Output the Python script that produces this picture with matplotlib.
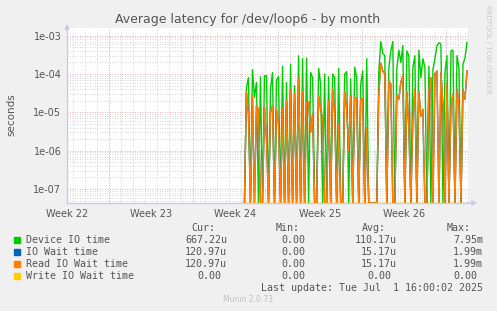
import numpy as np
import pandas as pd
import matplotlib
matplotlib.use("Agg")
import matplotlib.pyplot as plt
import matplotlib.dates as mdates
from matplotlib.ticker import LogLocator, FixedLocator, NullFormatter

# samples every 4 hours, values in microseconds (0 = no latency)
start = "2025-06-13 06:00"
step = "4h"

device_io = [
    0, 45, 80, 0, 130, 25, 60, 0, 85, 0,
    90, 90, 0, 40, 110, 0, 70, 85, 0, 160,
    0, 60, 0, 180, 0, 50, 0, 300, 0, 250,
    0, 260, 0, 110, 80, 0, 0, 140, 55, 0,
    100, 0, 85, 0, 100, 80, 0, 140, 0, 0,
    100, 115, 0, 75, 0, 150, 80, 0, 55, 120,
    0, 250, 0, 0, 0, 0, 0, 110, 700, 350,
    300, 0, 140, 400, 700, 0, 140, 420, 200, 550,
    0, 400, 300, 0, 150, 300, 0, 420, 80, 250,
    150, 0, 160, 0, 130, 250, 550, 650, 600, 0,
    110, 300, 0, 400, 420, 0, 300, 140, 0, 180,
    260, 667,
]
read_wait = [
    0, 35, 9, 0, 27, 0, 15, 12, 0, 0,
    14, 2, 0, 10, 15, 0, 12, 5, 0, 13,
    0, 20, 0, 40, 0, 30, 0, 80, 0, 35,
    0, 18, 19, 3, 9, 0, 0, 27, 12, 7,
    0, 0, 20, 0, 40, 9, 0, 5, 0, 0,
    35, 12, 1, 27, 0, 25, 22, 0, 22, 23,
    0, 4, 0, 0, 0, 0, 0, 30, 190, 120,
    100, 0, 65, 55, 0, 0, 28, 22, 60, 90,
    0, 35, 4, 0, 7, 40, 0, 35, 8, 12,
    0, 0, 40, 80, 0, 100, 120, 0, 110, 15,
    0, 55, 0, 14, 30, 0, 40, 15, 0, 40,
    22, 121,
]
io_wait = list(read_wait)
write_wait = [0] * len(read_wait)

labels = ["Device IO time", "IO Wait time", "Read IO Wait time", "Write IO Wait time"]
colors = ["#00CC00", "#0066B3", "#FF8000", "#FFCC00"]
cur = ["667.22u", "120.97u", "120.97u", "0.00"]
vmin = ["0.00", "0.00", "0.00", "0.00"]
avg = ["110.17u", "15.17u", "15.17u", "0.00"]
vmax = ["7.95m", "1.99m", "1.99m", "0.00"]

week_names = ["Week 22", "Week 23", "Week 24", "Week 25", "Week 26"]
week_mid = pd.to_datetime(["2025-05-29 12:00", "2025-06-05 12:00", "2025-06-12 12:00",
                           "2025-06-19 12:00", "2025-06-26 12:00"])
week_start = pd.to_datetime(["2025-06-02", "2025-06-09", "2025-06-16", "2025-06-23", "2025-06-30"])

t0 = pd.Timestamp("2025-05-29 12:00")
t1 = pd.Timestamp("2025-07-01 20:00")
ylo, yhi = 10 ** -7.365, 10 ** -2.80

times = pd.date_range(start, periods=len(device_io), freq=step)

text_c = "#555555"
fig = plt.figure(figsize=(4.97, 3.11), dpi=100, facecolor="#F0F0F0")
ax = fig.add_axes([67 / 497, 1 - 203 / 311, 401 / 497, 175 / 311])
ax.set_facecolor("white")
ax.set_yscale("log")
ax.set_xlim(t0, t1)
ax.set_ylim(ylo, yhi)

# grid
ax.yaxis.set_major_locator(LogLocator(base=10, numticks=20))
ax.yaxis.set_minor_locator(LogLocator(base=10, subs=np.arange(2, 10), numticks=20))
ax.yaxis.set_minor_formatter(NullFormatter())
ax.yaxis.set_major_formatter(plt.FuncFormatter(lambda v, p: "%.0e" % v))
days = pd.date_range("2025-05-30", "2025-07-01", freq="D")
ax.xaxis.set_minor_locator(FixedLocator(mdates.date2num(days)))
ax.xaxis.set_major_locator(FixedLocator(mdates.date2num(week_mid)))
ax.set_xticklabels(week_names)
ax.grid(which="minor", color="#C8C8C8", linestyle=(0, (1, 2)), linewidth=0.6)
ax.yaxis.grid(which="major", color="#E09090", linestyle=(0, (1, 2)), linewidth=0.6)
ax.xaxis.grid(which="major", visible=False)
for ws in week_start:
    ax.axvline(ws, color="#E09090", linestyle=(0, (1, 2)), linewidth=0.6, zorder=0.5)
ax.set_axisbelow(True)

# series
floor = ylo
for vals, col in zip([device_io, io_wait, read_wait, write_wait], colors):
    v = np.array(vals, dtype=float) * 1e-6
    v = np.where(v > 0, v, floor)
    ax.plot(times, v, color=col, linewidth=1.0, clip_on=True, zorder=3)

# axes styling
for s in ["top", "right"]:
    ax.spines[s].set_visible(False)
for s in ["left", "bottom"]:
    ax.spines[s].set_color("#C8C8F0")
    ax.spines[s].set_linewidth(1.0)
ax.tick_params(axis="both", which="both", length=0, colors=text_c, labelsize=7, pad=4)
ax.tick_params(axis="x", pad=4)
ax.annotate("", xy=(0, 1.04), xytext=(0, 0.99), xycoords="axes fraction",
            arrowprops=dict(arrowstyle="-|>", color="#C8C8F0", lw=1, mutation_scale=7))
ax.annotate("", xy=(1.03, 0), xytext=(0.99, 0), xycoords="axes fraction",
            arrowprops=dict(arrowstyle="-|>", color="#C8C8F0", lw=1, mutation_scale=7))

fig.text(248 / 497, 1 - 19 / 311, "Average latency for /dev/loop6 - by month",
         ha="center", va="center", fontsize=9, color=text_c)
fig.text(11 / 497, 1 - 115 / 311, "seconds", rotation=90, ha="center", va="center",
         fontsize=7.5, color=text_c)
fig.text(488 / 497, 1 - 5 / 311, "RRDTOOL / TOBI OETIKER", rotation=270, ha="center",
         va="top", fontsize=5, color="#C8C8C8")

# legend
mono = dict(family="DejaVu Sans Mono", fontsize=7.2, color=text_c, va="center")
def fy(y):
    return 1 - y / 311
for name, x in zip(["Cur:", "Min:", "Avg:", "Max:"], [191, 276, 362, 447]):
    fig.text(x / 497, fy(228), name, ha="left", **mono)
rows = [240, 252, 264, 276]
for i in range(4):
    y = rows[i]
    fig.patches.append(plt.Rectangle((14 / 497, fy(y + 3)), 6 / 497, 6 / 311,
                                     transform=fig.transFigure, color=colors[i]))
    fig.text(26 / 497, fy(y), labels[i], ha="left", **mono)
    for val, xr in zip([cur[i], vmin[i], avg[i], vmax[i]], [227, 311, 397, 483]):
        off = 0 if val[-1] in "um" else 6
        fig.text((xr - off) / 497, fy(y), val, ha="right", **mono)
fig.text(483 / 497, fy(288), "Last update: Tue Jul  1 16:00:02 2025", ha="right", **mono)
fig.text(248 / 497, fy(300), "Munin 2.0.73", ha="center", va="center",
         fontsize=5.5, color="#C0C0C0")

fig.savefig("out.png", dpi=100, facecolor=fig.get_facecolor())
